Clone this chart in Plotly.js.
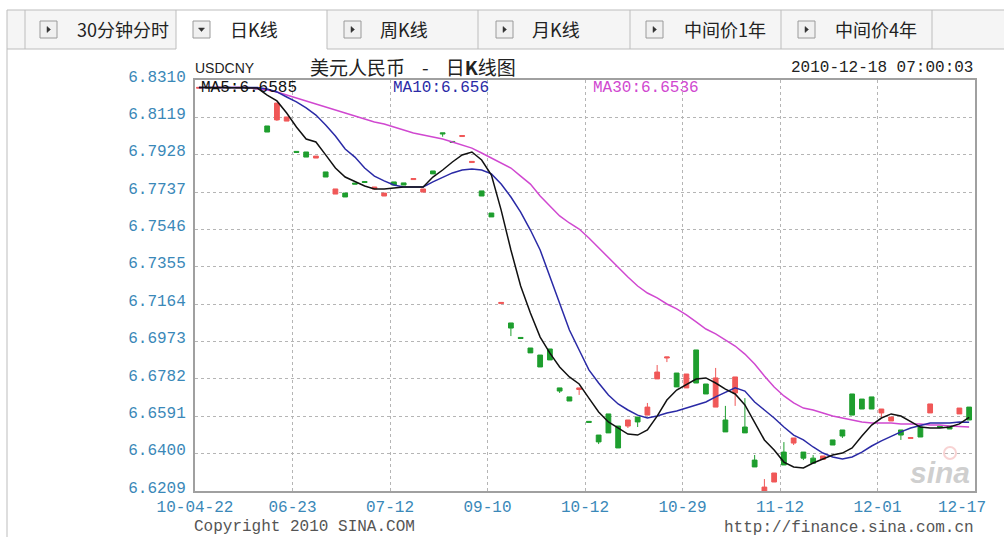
<!DOCTYPE html>
<html>
<head>
<meta charset="utf-8">
<script src="https://cdn.plot.ly/plotly-3.0.1.min.js"></script>
<style>
html,body{margin:0;padding:0;background:#fff;}
#chart{width:1004px;height:537px;}
</style>
</head>
<body>
<div id="chart"></div>
<script>
// ---------- DATA ----------
const tickLabels = ['10-04-22','06-23','07-12','09-10','10-12','10-29','11-12','12-01','12-17'];
const yTicks = [6.8310,6.8119,6.7928,6.7737,6.7546,6.7355,6.7164,6.6973,6.6782,6.6591,6.6400,6.6209];

const openP = [6.8268,6.8272,6.8270,6.8273,6.8269,6.8272,6.8270,6.8075,6.8106,6.8100,
  6.7945,6.7942,6.7911,6.7840,6.7727,6.7732,6.7783,6.7791,6.7753,6.7717,
  6.7789,6.7784,6.7801,6.7737,6.7845,6.8040,6.7996,6.8021,6.7888,6.7743,
  6.7630,6.7167,6.7068,6.6994,6.6940,6.6904,6.6935,6.6736,6.6690,6.6728,
  6.6565,6.6495,6.6603,6.6541,6.6541,6.6587,6.6597,6.6782,6.6889,6.6812,
  6.6736,6.6930,6.6756,6.6638,6.6572,6.6710,6.6536,6.6367,6.6205,6.6255,
  6.6408,6.6454,6.6408,6.6377,6.6370,6.6470,6.6521,6.6705,6.6679,6.6690,
  6.6608,6.6567,6.6521,6.6478,6.6536,6.6608,6.6540,6.6541,6.6603,6.6638];
const highP = [6.8272,6.8272,6.8273,6.8273,6.8272,6.8272,6.8270,6.8075,6.8192,6.8121,
  6.7945,6.7942,6.7921,6.7840,6.7753,6.7732,6.7783,6.7791,6.7763,6.7732,
  6.7789,6.7784,6.7806,6.7753,6.7845,6.8040,6.7996,6.8026,6.7894,6.7743,
  6.7630,6.7173,6.7068,6.6994,6.6940,6.6904,6.6935,6.6736,6.6690,6.6736,
  6.6565,6.6495,6.6603,6.6541,6.6572,6.6587,6.6659,6.6853,6.6894,6.6812,
  6.6807,6.6930,6.6756,6.6838,6.6644,6.6792,6.6684,6.6393,6.6270,6.6301,
  6.6459,6.6480,6.6408,6.6393,6.6388,6.6470,6.6521,6.6705,6.6679,6.6690,
  6.6628,6.6587,6.6521,6.6482,6.6536,6.6654,6.6540,6.6541,6.6633,6.6638];
const lowP = [6.8268,6.8269,6.8270,6.8270,6.8269,6.8268,6.8265,6.8044,6.8101,6.8100,
  6.7940,6.7916,6.7911,6.7814,6.7727,6.7712,6.7778,6.7786,6.7753,6.7717,
  6.7773,6.7773,6.7801,6.7737,6.7830,6.8020,6.7991,6.8021,6.7888,6.7717,
  6.7610,6.7167,6.7001,6.6989,6.6915,6.6843,6.6879,6.6710,6.6669,6.6700,
  6.6560,6.6449,6.6506,6.6429,6.6531,6.6536,6.6597,6.6782,6.6868,6.6741,
  6.6736,6.6761,6.6705,6.6638,6.6511,6.6644,6.6506,6.6332,6.6205,6.6255,
  6.6342,6.6444,6.6367,6.6351,6.6370,6.6444,6.6480,6.6597,6.6628,6.6628,
  6.6587,6.6567,6.6470,6.6478,6.6485,6.6608,6.6535,6.6526,6.6603,6.6572];
const closeP = [6.8272,6.8269,6.8273,6.8270,6.8272,6.8268,6.8265,6.8044,6.8192,6.8121,
  6.7940,6.7916,6.7921,6.7814,6.7753,6.7712,6.7778,6.7786,6.7763,6.7732,
  6.7773,6.7773,6.7806,6.7753,6.7830,6.8035,6.7991,6.8026,6.7894,6.7717,
  6.7610,6.7173,6.7042,6.6989,6.6915,6.6843,6.6879,6.6720,6.6669,6.6736,
  6.6560,6.6460,6.6506,6.6429,6.6572,6.6562,6.6638,6.6817,6.6894,6.6741,
  6.6807,6.6761,6.6705,6.6787,6.6511,6.6792,6.6506,6.6332,6.6229,6.6301,
  6.6342,6.6480,6.6377,6.6351,6.6388,6.6444,6.6490,6.6597,6.6628,6.6628,
  6.6628,6.6587,6.6495,6.6482,6.6485,6.6654,6.6535,6.6526,6.6633,6.6572];

const ma5 = [6.8272,6.8272,6.8272,6.8272,6.8272,6.8272,6.8269,6.8233,6.8203,6.8141,
  6.8070,6.8008,6.7993,6.7927,6.7860,6.7814,6.7789,6.7768,6.7753,6.7753,
  6.7758,6.7763,6.7763,6.7763,6.7814,6.7850,6.7891,6.7927,6.7942,6.7901,
  6.7824,6.7645,6.7441,6.7257,6.7119,6.6996,6.6914,6.6843,6.6792,6.6756,
  6.6684,6.6613,6.6562,6.6531,6.6500,6.6495,6.6521,6.6592,6.6674,6.6725,
  6.6751,6.6781,6.6787,6.6761,6.6730,6.6705,6.6649,6.6562,6.6470,6.6419,
  6.6357,6.6332,6.6327,6.6352,6.6373,6.6393,6.6403,6.6429,6.6490,6.6546,
  6.6582,6.6603,6.6592,6.6562,6.6536,6.6531,6.6531,6.6536,6.6552,6.6585];
const ma10 = [6.8272,6.8272,6.8272,6.8272,6.8272,6.8272,6.8272,6.8264,6.8249,6.8223,
  6.8198,6.8167,6.8131,6.8080,6.8024,6.7957,6.7916,6.7860,6.7819,6.7794,
  6.7773,6.7763,6.7763,6.7763,6.7789,6.7814,6.7835,6.7850,6.7855,6.7850,
  6.7830,6.7778,6.7712,6.7635,6.7543,6.7441,6.7303,6.7160,6.7032,6.6930,
  6.6828,6.6761,6.6700,6.6654,6.6623,6.6597,6.6582,6.6592,6.6608,6.6618,
  6.6633,6.6649,6.6664,6.6690,6.6715,6.6736,6.6720,6.6664,6.6623,6.6582,
  6.6536,6.6495,6.6470,6.6434,6.6403,6.6383,6.6373,6.6383,6.6408,6.6439,
  6.6465,6.6490,6.6511,6.6531,6.6546,6.6557,6.6557,6.6557,6.6562,6.6560];
const ma30 = [6.8272,6.8272,6.8272,6.8272,6.8272,6.8272,6.8264,6.8259,6.8249,6.8233,
  6.8218,6.8203,6.8187,6.8172,6.8157,6.8141,6.8126,6.8111,6.8095,6.8085,
  6.8070,6.8054,6.8039,6.8029,6.8018,6.8008,6.7993,6.7977,6.7962,6.7937,
  6.7911,6.7886,6.7860,6.7819,6.7778,6.7717,6.7666,6.7615,6.7579,6.7548,
  6.7502,6.7451,6.7400,6.7349,6.7303,6.7257,6.7221,6.7196,6.7165,6.7140,
  6.7109,6.7073,6.7037,6.7012,6.6981,6.6950,6.6909,6.6858,6.6797,6.6741,
  6.6695,6.6659,6.6633,6.6623,6.6608,6.6592,6.6582,6.6572,6.6562,6.6557,
  6.6557,6.6557,6.6552,6.6552,6.6552,6.6546,6.6546,6.6541,6.6538,6.6536];

const tabNames = ['30分钟分时','日K线','周K线','月K线','中间价1年','中间价4年'];
const selectedTab = 1;

// ---------- LAYOUT HELPERS (pixel -> paper) ----------
const PL=195, PR=975, PT=80, PB=491;
const px = x => (x-PL)/(PR-PL);
const py = y => (PB-y)/(PB-PT);

const idx = openP.map((_,i)=>i);
const tickPos = tickLabels.map((_,k)=>k*10-0.4);
const xRange = [tickPos[0]-0.001, tickPos[tickPos.length-1]+0.001];
const lastK = tickLabels.length-1;
// last label is drawn as an annotation, pulled inside the right edge like the original
const tickText = tickLabels.map((t,k)=> k===lastK ? '' : t);

const RED='#F05858', GREEN='#1E9E2E';
const mono = 'Liberation Mono, DejaVu Sans Mono, monospace';
const cjk = 'Noto Sans CJK SC, Noto Sans, sans-serif';
const TICKCOL = '#3A88B8';

const traces = [
  {type:'candlestick', x:idx, open:openP, high:highP, low:lowP, close:closeP,
   increasing:{line:{color:RED,width:1},fillcolor:RED},
   decreasing:{line:{color:GREEN,width:1},fillcolor:GREEN},
   whiskerwidth:0, hoverinfo:'skip', showlegend:false},
  {type:'scatter', mode:'lines', x:idx, y:ma30, line:{color:'#D048D0',width:1.5}, hoverinfo:'skip', showlegend:false},
  {type:'scatter', mode:'lines', x:idx, y:ma10, line:{color:'#2A2AA6',width:1.5}, hoverinfo:'skip', showlegend:false},
  {type:'scatter', mode:'lines', x:idx, y:ma5, line:{color:'#111111',width:1.5}, hoverinfo:'skip', showlegend:false}
];

// ---------- TAB BAR ----------
const shapes = [];
const annotations = [];
const sep = [25,176,327,478,630,781,932];
shapes.push({type:'rect',xref:'paper',yref:'paper',x0:px(7),x1:px(1004),y0:py(49),y1:py(10),fillcolor:'#F5F5F5',line:{width:0},layer:'below'});
shapes.push({type:'rect',xref:'paper',yref:'paper',x0:px(sep[1]),x1:px(sep[2]),y0:py(50),y1:py(10),fillcolor:'#FFFFFF',line:{width:0},layer:'below'});
const gl = {color:'#BDBDBD',width:1};
shapes.push({type:'line',xref:'paper',yref:'paper',x0:px(7),x1:px(1004),y0:py(10),y1:py(10),line:gl});
shapes.push({type:'line',xref:'paper',yref:'paper',x0:px(7),x1:px(sep[1]),y0:py(49),y1:py(49),line:gl});
shapes.push({type:'line',xref:'paper',yref:'paper',x0:px(sep[2]),x1:px(1004),y0:py(49),y1:py(49),line:gl});
shapes.push({type:'line',xref:'paper',yref:'paper',x0:px(7),x1:px(7),y0:py(537),y1:py(10),line:gl});
sep.forEach(s=>shapes.push({type:'line',xref:'paper',yref:'paper',x0:px(s),x1:px(s),y0:py(49),y1:py(10),line:gl}));
const iconX = [40,193,344,496,646,798];
const textX = [75,228,378,530,682,833];
tabNames.forEach((name,k)=>{
  const x0=iconX[k], x1=x0+17, y0=21, y1=38;
  shapes.push({type:'rect',xref:'paper',yref:'paper',x0:px(x0),x1:px(x1),y0:py(y1),y1:py(y0),fillcolor:'#F0F0F0',line:{color:'#9A9A9A',width:1}});
  const cx=(x0+x1)/2, cy=(y0+y1)/2;
  let path;
  if(k===selectedTab){
    path=`M ${px(cx-3)} ${py(cy-1.5)} L ${px(cx+3)} ${py(cy-1.5)} L ${px(cx)} ${py(cy+2)} Z`;
  } else {
    path=`M ${px(cx-1.5)} ${py(cy-3)} L ${px(cx+2)} ${py(cy)} L ${px(cx-1.5)} ${py(cy+3)} Z`;
  }
  shapes.push({type:'path',xref:'paper',yref:'paper',path:path,fillcolor:'#333',line:{color:'#333',width:0.5}});
  annotations.push({xref:'paper',yref:'paper',x:px(textX[k]),y:py(29),xanchor:'left',yanchor:'middle',
    text:name,showarrow:false,font:{family:cjk,size:18,color:'#222'}});
});

// ---------- HEADER / LEGEND / FOOTER TEXT ----------
const nb = '\u00a0';
annotations.push({xref:'paper',yref:'paper',x:px(962),y:py(497),xanchor:'center',yanchor:'top',text:tickLabels[lastK],showarrow:false,font:{family:mono,size:16,color:TICKCOL}});
annotations.push({xref:'paper',yref:'paper',x:px(193),y:py(68),xanchor:'left',yanchor:'middle',text:'USDCNY',showarrow:false,font:{family:'Liberation Sans, Arial, sans-serif',size:14,color:'#222'}});
annotations.push({xref:'paper',yref:'paper',x:px(308),y:py(66),xanchor:'left',yanchor:'middle',text:'美元人民币'+nb+nb+nb+nb+'-'+nb+nb+nb+nb+'日<b>K</b>线图',showarrow:false,font:{family:cjk,size:19,color:'#222'}});
annotations.push({xref:'paper',yref:'paper',x:px(975),y:py(68),xanchor:'right',yanchor:'middle',text:'2010-12-18 07:00:03',showarrow:false,font:{family:mono,size:16,color:'#222'}});
annotations.push({xref:'paper',yref:'paper',x:px(199),y:py(88),xanchor:'left',yanchor:'middle',text:'MA5:6.6585',showarrow:false,font:{family:mono,size:16,color:'#111'}});
annotations.push({xref:'paper',yref:'paper',x:px(391),y:py(88),xanchor:'left',yanchor:'middle',text:'MA10:6.656',showarrow:false,font:{family:mono,size:16,color:'#2A2AA6'}});
annotations.push({xref:'paper',yref:'paper',x:px(591),y:py(88),xanchor:'left',yanchor:'middle',text:'MA30:6.6536',showarrow:false,font:{family:mono,size:16,color:'#D048D0'}});
annotations.push({xref:'paper',yref:'paper',x:px(192),y:py(527),xanchor:'left',yanchor:'middle',text:'Copyright 2010 SINA.COM',showarrow:false,font:{family:mono,size:16,color:'#555'}});
annotations.push({xref:'paper',yref:'paper',x:px(976),y:py(528),xanchor:'right',yanchor:'middle',text:'http://finance.sina.com.cn',showarrow:false,font:{family:mono,size:16,color:'#555'}});
annotations.push({xref:'paper',yref:'paper',x:px(972),y:py(472),xanchor:'right',yanchor:'middle',text:'<b><i>sina</i></b>',showarrow:false,font:{family:'Liberation Sans, Arial, sans-serif',size:30,color:'rgba(160,160,160,0.5)'}});
shapes.push({type:'circle',xref:'paper',yref:'paper',x0:px(944),x1:px(956),y0:py(459),y1:py(447),line:{color:'rgba(235,130,130,0.35)',width:2},fillcolor:'rgba(0,0,0,0)'});

const layout = {
  width:1004, height:537, autosize:false,
  margin:{l:PL, r:1004-PR, t:PT, b:537-PB, pad:0},
  paper_bgcolor:'#fff', plot_bgcolor:'#fff',
  showlegend:false,
  xaxis:{range:xRange, tickmode:'array', tickvals:tickPos, ticktext:tickText,
    showgrid:true, gridcolor:'#B5B5B5', griddash:'dot', gridwidth:1,
    showline:true, linecolor:'#A0A0A0', linewidth:2, mirror:true,
    ticks:'', zeroline:false, rangeslider:{visible:false}, fixedrange:true,
    tickfont:{family:mono,size:16,color:TICKCOL}, ticklabelstandoff:0},
  yaxis:{range:[yTicks[yTicks.length-1], yTicks[0]], tickmode:'array', tickvals:yTicks,
    ticktext:yTicks.map(v=>v.toFixed(4)),
    showgrid:true, gridcolor:'#B5B5B5', griddash:'dot', gridwidth:1,
    showline:true, linecolor:'#A0A0A0', linewidth:2, mirror:true,
    ticks:'', zeroline:false, fixedrange:true,
    tickfont:{family:mono,size:16,color:TICKCOL}, ticklabelshift:-4, ticklabelstandoff:4},
  shapes:shapes, annotations:annotations
};

Plotly.newPlot('chart', traces, layout, {displayModeBar:false, staticPlot:true});
</script>
</body>
</html>
